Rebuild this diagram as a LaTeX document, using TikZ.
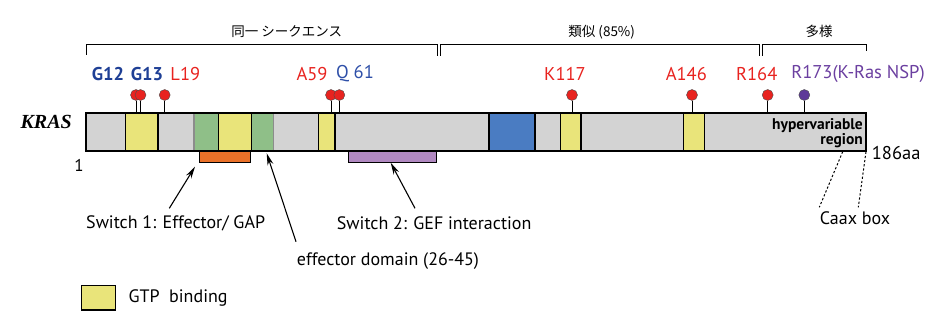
\documentclass[tikz,border=0pt]{standalone}
\usepackage{fontspec}
\setmainfont{PT Sans}
\newfontfamily\jpfont{Noto Sans CJK JP}
\newfontfamily\krasfont{Liberation Serif}
\usepackage{tikz}
\usetikzlibrary{arrows.meta, positioning}
\definecolor{protgray}{RGB}{211,211,211}
\definecolor{gtpyellow}{RGB}{233,228,122}
\definecolor{effgreen}{RGB}{143,191,136}
\definecolor{domblue}{RGB}{74,124,194}
\definecolor{sworange}{RGB}{234,113,41}
\definecolor{swpurple}{RGB}{176,136,192}
\definecolor{mutred}{RGB}{232,35,31}
\definecolor{mutblue}{RGB}{30,63,149}
\definecolor{qblue}{RGB}{46,79,168}
\definecolor{nsppurple}{RGB}{107,63,160}
\definecolor{headpurple}{RGB}{94,58,152}

\begin{document}
\begin{tikzpicture}[x=1pt, y=-1pt,
    segment/.style={draw=black, line width=1.3pt, inner sep=0pt, outer sep=0pt, minimum height=38pt},
    gtpbox/.style={segment, fill=gtpyellow},
    effbox/.style={segment, draw=black!45, fill=effgreen},
    switchbar/.style={draw=black, line width=1pt, inner sep=0pt, outer sep=0pt, minimum height=11.7pt},
    head/.style={circle, draw=black!70, line width=0.4pt, inner sep=0pt, outer sep=0pt, minimum size=11pt},
    stem/.style={line width=1pt, black},
    hotspot/.style={font=\fontsize{18.5}{20}\selectfont, inner sep=0pt},
    bracket/.style={line width=1pt, black},
    regionlabel/.style={font=\jpfont\fontsize{13.5}{15}\selectfont, inner sep=0pt},
    note/.style={font=\fontsize{18}{20}\selectfont, inner sep=0pt},
    pointer/.style={-{Stealth[length=12pt, width=6pt]}, line width=1.1pt, black},
    caax/.style={line width=1pt, black, dash pattern=on 2.2pt off 2pt}
]
    \useasboundingbox (0,0) rectangle (945,313);

    % protein bar and domains
    \node[segment, fill=protgray, minimum width=780pt, name=bar] at (476,132) {};
    \node[effbox, minimum width=24.7pt, name=effA] at (206.35,132) {};
    \node[effbox, minimum width=21.6pt, name=effB] at (262.5,132) {};
    \node[gtpbox, minimum width=32.3pt, name=gtpA] at (141.85,132) {};
    \node[gtpbox, minimum width=33pt, name=gtpB] at (235.2,132) {};
    \node[gtpbox, minimum width=16.7pt, name=gtpC] at (326.65,132) {};
    \node[gtpbox, minimum width=20.3pt, name=gtpD] at (570.85,132) {};
    \node[gtpbox, minimum width=20.6pt, name=gtpE] at (694,132) {};
    \node[segment, fill=domblue, minimum width=46pt, name=dom] at (512,132) {};
    \draw[line width=1.3pt] (bar.north west) rectangle (bar.south east);

    \node[switchbar, fill=sworange, minimum width=51.4pt, name=swA] at (225,156.85) {};
    \node[switchbar, fill=swpurple, minimum width=88.4pt, name=swB] at (392.5,156.85) {};

    \node[font=\krasfont\bfseries\itshape\fontsize{20}{22}\selectfont, inner sep=0pt, name=kras] at (46.2,121.7) {KRAS};
    \node[font=\fontsize{17}{19}\selectfont, inner sep=0pt, name=first] at (79,165) {1};
    \node[font=\fontsize{18.5}{20}\selectfont, inner sep=0pt, anchor=west, name=last] at (871.7,153.3) {186aa};
    \node[font=\bfseries\fontsize{15.5}{12.7}\selectfont, align=right, inner sep=0pt, anchor=east, name=hvr] at (863,133.4) {hypervariable\\region};

    % hotspots
    \foreach \pos/\col/\nm in {136/mutred/G12, 140.5/mutred/G13, 164.7/mutred/L19,
        331/mutred/A59, 339.3/mutred/Q61, 572/mutred/K117, 692/mutred/A146,
        767.7/mutred/R164, 804.3/headpurple/R173}
    {
        \node[head, fill=\col, name=h\nm] at (\pos,95) {};
        \draw[stem] (h\nm.south) -- (h\nm |- bar.north);
    }

    \node[hotspot, text=mutblue, font=\bfseries\fontsize{18.5}{20}\selectfont, name=lG12] at (108,74) {G12};
    \node[hotspot, text=mutblue, font=\bfseries\fontsize{18.5}{20}\selectfont, name=lG13] at (147,74) {G13};
    \node[hotspot, text=mutred, name=lL19] at (185.3,74) {L19};
    \node[hotspot, text=mutred, name=lA59] at (312,74) {A59};
    \node[hotspot, text=qblue, name=lQ61] at (355,74) {Q 61};
    \node[hotspot, text=mutred, name=lK117] at (565,74) {K117};
    \node[hotspot, text=mutred, name=lA146] at (686.3,74) {A146};
    \node[hotspot, text=mutred, name=lR164] at (756.7,74) {R164};
    \node[hotspot, text=nsppurple, name=lR173] at (858,74) {R173(K-Ras NSP)};

    % conservation brackets
    \draw[bracket] (86,55) -- (86,45) -- (437.7,45) -- (437.7,56);
    \draw[bracket] (440,56) -- (440,45) -- (759.3,45) -- (759.3,56);
    \draw[bracket] (762.7,56) -- (762.7,45) -- (866,45) -- (866,51);
    \node[regionlabel, name=same] at (286.7,31.7) {同一 シークエンス};
    \node[regionlabel, name=similar] at (601.7,31.7) {類似 (85\%)};
    \node[regionlabel, name=diverse] at (819,31.7) {多様};

    % annotations
    \node[note, anchor=west, name=sw1] at (86,223.3) {Switch 1: Effector/ GAP};
    \node[note, anchor=west, name=sw2] at (336.7,223.3) {Switch 2: GEF interaction};
    \node[note, anchor=west, name=effdom] at (296.7,260.7) {effector domain (26-45)};
    \node[note, name=caaxbox] at (855,218.3) {Caax box};

    \coordinate (sw1tail) at (169.3,208.3);
    \coordinate (sw1tip) at (195,166.7);
    \coordinate (efftail) at (296,241.7);
    \coordinate (efftip) at (266.7,153.3);
    \coordinate (sw2tail) at (415,208.3);
    \coordinate (sw2tip) at (390.7,162.7);
    \draw[pointer] (sw1tail) -- (sw1tip);
    \draw[pointer] (efftail) -- (efftip);
    \draw[pointer] (sw2tail) -- (sw2tip);

    \coordinate (caaxA) at (842.7,151.7);
    \coordinate (caaxB) at (866,151.7);
    \coordinate (caaxC) at (819.3,207.3);
    \coordinate (caaxD) at (858.3,207.3);
    \draw[caax] (caaxA) -- (caaxC);
    \draw[caax] (caaxB) -- (caaxD);

    % legend
    \node[segment, fill=gtpyellow, minimum width=34pt, minimum height=24.3pt, name=legend] at (98.7,297.85) {};
    \node[note, right=12.6pt of legend, name=legendtext] {GTP\ \ binding};
\end{tikzpicture}
\end{document}
